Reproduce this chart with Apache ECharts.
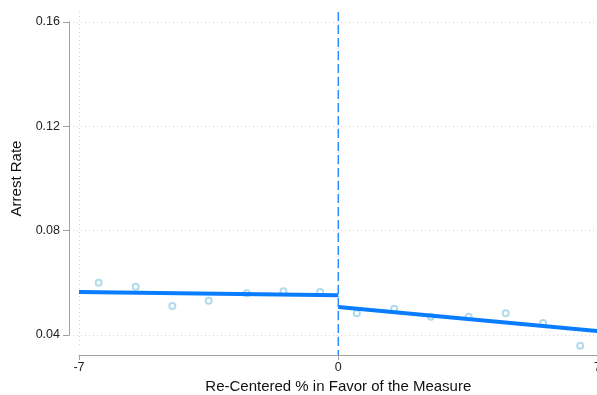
<!DOCTYPE html>
<html>
<head>
<meta charset="utf-8">
<script src="https://cdn.jsdelivr.net/npm/echarts@6/dist/echarts.min.js"></script>
<style>
  html, body { margin: 0; padding: 0; background: #fff; }
  #chart { width: 597px; height: 395px; }
</style>
</head>
<body>
<div id="chart"></div>
<script>
// Binned means of the arrest rate, left and right of the cutoff
const binXLeft = [-6.47, -5.47, -4.48, -3.5, -2.47, -1.48, -0.49];
const binYLeft = [0.0600, 0.0585, 0.0511, 0.0531, 0.0560, 0.0568, 0.0565];
const binXRight = [0.5, 1.51, 2.5, 3.52, 4.52, 5.53, 6.53];
const binYRight = [0.0483, 0.0501, 0.0470, 0.0470, 0.0483, 0.0446, 0.0359];

// Linear fits on each side of the cutoff (endpoints)
const fitXLeft = [-7, 0];
const fitYLeft = [0.0565, 0.0552];
const fitXRight = [0, 7];
const fitYRight = [0.0507, 0.0415];

// Axis ticks
const xTicks = [-7, 0, 7];
const yTicks = [0.04, 0.08, 0.12, 0.16];

const cutoff = 0;
const plotYMin = 0.035015;
const plotYMax = 0.16385;

const font = '"Liberation Sans", Arial, sans-serif';
const axisGray = '#a0a0a0';
const gridGray = '#d4d4d4';

const zip = (xs, ys) => xs.map((x, i) => [x, ys[i]]);

const chart = echarts.init(document.getElementById('chart'), null, { renderer: 'canvas' });

chart.setOption({
  animation: false,
  backgroundColor: '#ffffff',
  textStyle: { fontFamily: font },
  grid: [
    { left: 79, right: -0.6, top: 12, bottom: 47, containLabel: false, outerBoundsMode: 'none' },
    { left: 69, right: 0, top: 22, bottom: 60, containLabel: false, outerBoundsMode: 'none' }
  ],
  xAxis: [
    {
      gridIndex: 0,
      type: 'value',
      min: xTicks[0],
      max: xTicks[xTicks.length - 1],
      interval: 7,
      offset: 7,
      name: 'Re-Centered % in Favor of the Measure',
      nameLocation: 'middle',
      nameGap: 24,
      nameTextStyle: { fontFamily: font, fontSize: 15, color: '#111' },
      axisLine: { show: true, lineStyle: { color: axisGray, width: 1 } },
      axisTick: { show: true, length: 5, lineStyle: { color: axisGray } },
      axisLabel: { fontFamily: font, fontSize: 12.5, color: '#222', margin: 6 },
      splitLine: { show: true, lineStyle: { color: gridGray, type: [1, 3], width: 1 } }
    },
    {
      gridIndex: 1,
      type: 'value',
      min: 0,
      max: 1,
      show: false
    }
  ],
  yAxis: [
    {
      gridIndex: 0,
      type: 'value',
      min: plotYMin,
      max: plotYMax,
      show: false,
      splitLine: { show: false }
    },
    {
      gridIndex: 1,
      type: 'value',
      min: yTicks[0],
      max: yTicks[yTicks.length - 1],
      interval: 0.04,
      name: 'Arrest Rate',
      nameLocation: 'middle',
      nameGap: 44,
      nameTextStyle: { fontFamily: font, fontSize: 15, color: '#111' },
      axisLine: { show: true, lineStyle: { color: axisGray, width: 1 } },
      axisTick: { show: true, length: 6, lineStyle: { color: axisGray } },
      axisLabel: {
        fontFamily: font, fontSize: 12.5, color: '#222', margin: 9,
        formatter: v => v.toFixed(2)
      },
      splitLine: { show: true, lineStyle: { color: gridGray, type: [1, 3], width: 1 } }
    }
  ],
  series: [
    {
      name: 'bins-left',
      type: 'scatter',
      xAxisIndex: 0, yAxisIndex: 0,
      data: zip(binXLeft, binYLeft),
      symbol: 'circle',
      symbolSize: 6,
      itemStyle: { color: '#ffffff', borderColor: '#9fd2e4', borderWidth: 2 },
      z: 2
    },
    {
      name: 'bins-right',
      type: 'scatter',
      xAxisIndex: 0, yAxisIndex: 0,
      data: zip(binXRight, binYRight),
      symbol: 'circle',
      symbolSize: 6,
      itemStyle: { color: '#ffffff', borderColor: '#9fd2e4', borderWidth: 2 },
      z: 2
    },
    {
      name: 'cutoff',
      type: 'line',
      xAxisIndex: 0, yAxisIndex: 0,
      data: [[cutoff, plotYMax], [cutoff, 0.0323]],
      clip: false,
      showSymbol: false,
      symbol: 'none',
      lineStyle: { color: '#2a8cff', width: 1.5, type: [9, 4] },
      z: 3
    },
    {
      name: 'fit-left',
      type: 'line',
      xAxisIndex: 0, yAxisIndex: 0,
      data: zip(fitXLeft, fitYLeft),
      symbol: 'none',
      lineStyle: { color: '#0a7cff', width: 4 },
      z: 4
    },
    {
      name: 'fit-right',
      type: 'line',
      xAxisIndex: 0, yAxisIndex: 0,
      data: zip(fitXRight, fitYRight),
      symbol: 'none',
      lineStyle: { color: '#0a7cff', width: 4 },
      z: 4
    }
  ]
});
</script>
</body>
</html>
